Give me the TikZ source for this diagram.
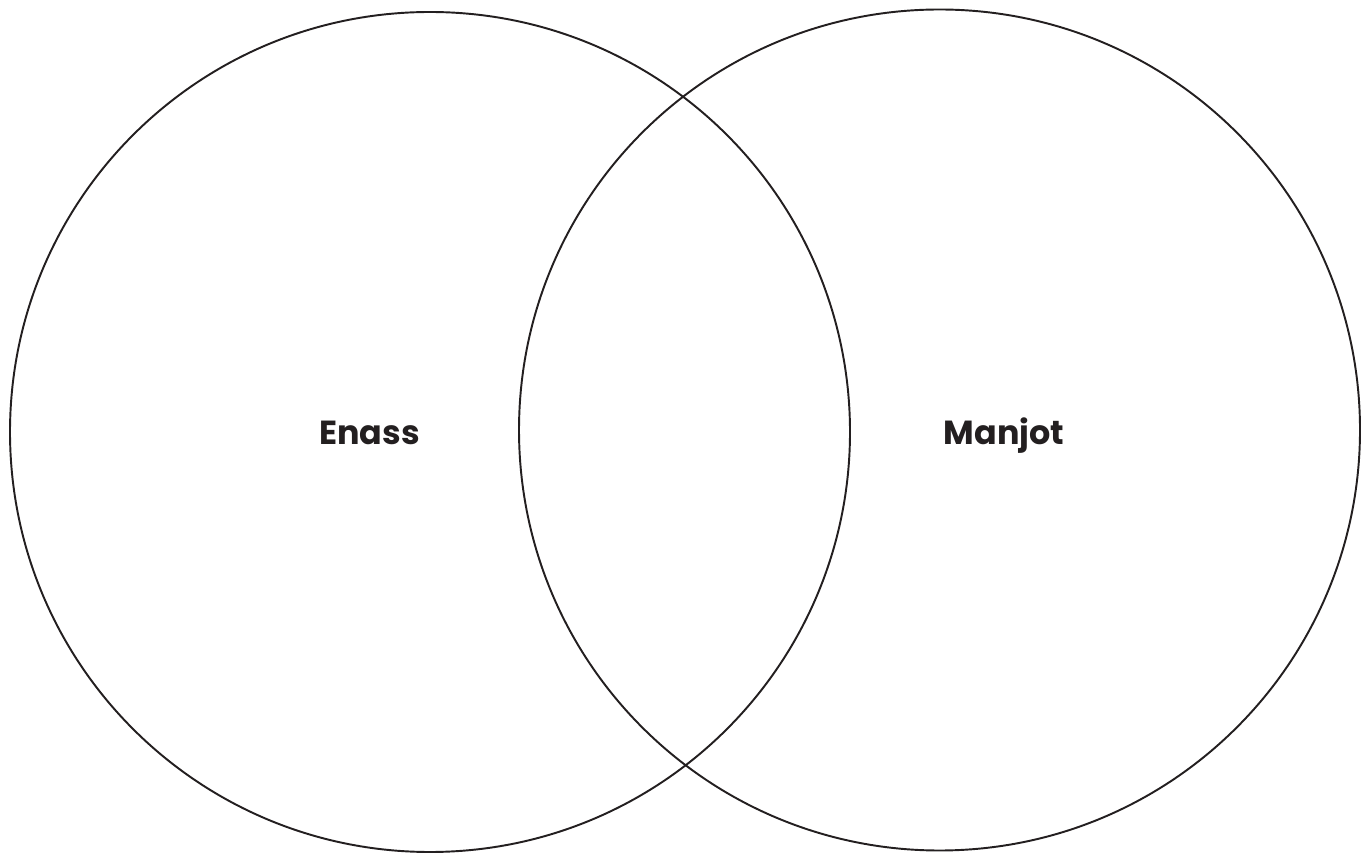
\documentclass[tikz,border=0pt]{standalone}
\usepackage{fontspec}
\setmainfont{Poppins}
\definecolor{venngray}{RGB}{35,31,32}
\usetikzlibrary{positioning}

\begin{document}
\begin{tikzpicture}[
      setcircle/.style={circle,draw=venngray,line width=1.1pt,inner sep=0pt},
      setlabel/.style={font=\fontsize{19}{22}\selectfont\bfseries,color=venngray,anchor=base}]

      \useasboundingbox (0,0) rectangle (27.4,17.06);

      % Kreise
      \node[setcircle,minimum size=16.80cm] (enasscircle)  at (8.60,8.42)  {};
      \node[setcircle,minimum size=16.82cm] (manjotcircle) at (18.79,8.46) {};

      % Namen
      \node[setlabel] (enass)  at (7.39,8.16)  {Enass};
      \node[setlabel] (manjot) at (20.08,8.16) {Manjot};
    \end{tikzpicture}
\end{document}
